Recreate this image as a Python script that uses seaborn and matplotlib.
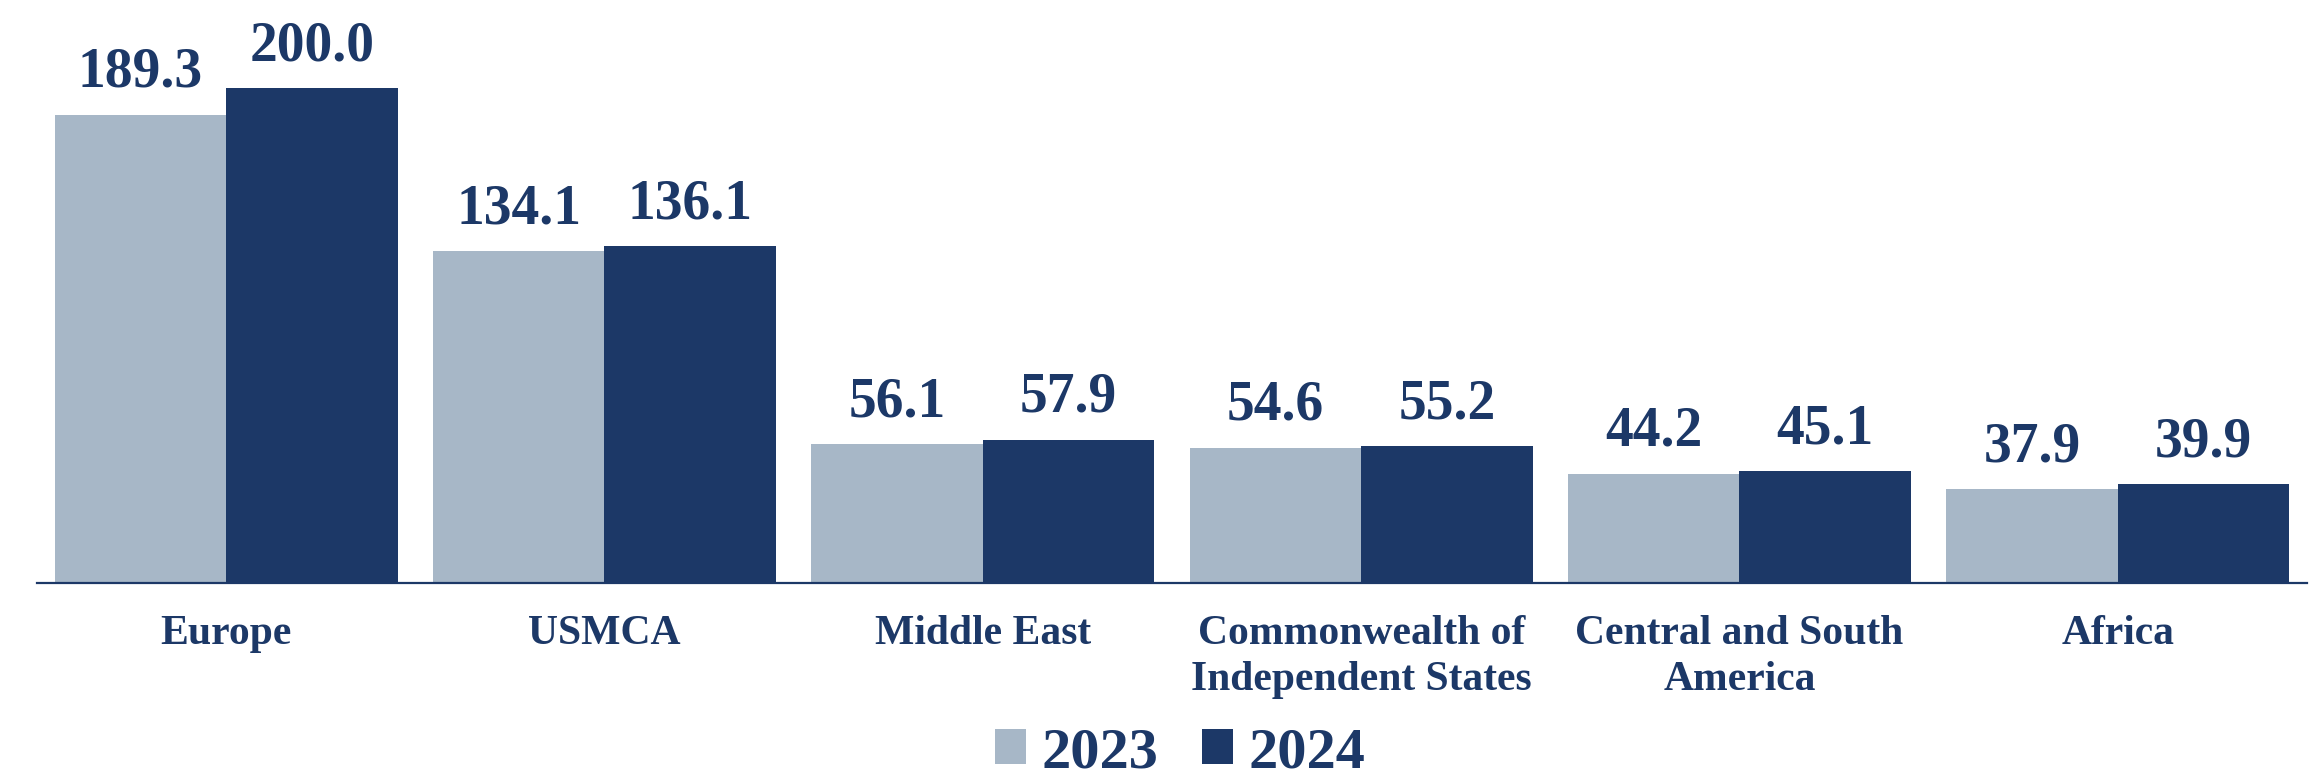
import matplotlib
matplotlib.use("Agg")
import matplotlib.pyplot as plt
import seaborn as sns
import pandas as pd

categories = ["Europe", "USMCA", "Middle East",
              "Commonwealth of\nIndependent States",
              "Central and South\nAmerica", "Africa"]
years = ["2023", "2024"]
values_2023 = [189.3, 134.1, 56.1, 54.6, 44.2, 37.9]
values_2024 = [200.0, 136.1, 57.9, 55.2, 45.1, 39.9]

NAVY = "#1C3867"
LIGHT = "#A7B7C7"
FONT = "Liberation Serif"

df = pd.DataFrame({
    "region": categories * 2,
    "year": [years[0]] * len(categories) + [years[1]] * len(categories),
    "value": values_2023 + values_2024,
})

sns.set_theme(style="white")
plt.rcParams["font.family"] = [FONT, "DejaVu Serif"]
plt.rcParams["font.weight"] = "bold"

fig = plt.figure(figsize=(23.19, 7.76), dpi=100)
ax = fig.add_axes([37 / 2319, (776 - 583) / 776, (2307 - 37) / 2319, 583 / 776])

sns.barplot(data=df, x="region", y="value", hue="year", order=categories,
            hue_order=years, palette=[LIGHT, NAVY], width=0.906, gap=0,
            linewidth=0, saturation=1, legend=True, ax=ax)

for cont in ax.containers:
    ax.bar_label(cont, fmt="%.1f", padding=11.5, fontsize=40,
                 fontweight="bold", color=NAVY)

ax.set_xlim(-0.5, 5.5)
ax.set_ylim(0, 235.6)
ax.set_xlabel("")
ax.set_ylabel("")
ax.set_yticks([])
for s in ["top", "left", "right"]:
    ax.spines[s].set_visible(False)
ax.spines["bottom"].set_color(NAVY)
ax.spines["bottom"].set_linewidth(1.6)
ax.tick_params(axis="x", length=0, pad=23, labelsize=30, labelcolor=NAVY)
for lbl in ax.get_xticklabels():
    lbl.set_fontweight("bold")
    lbl.set_linespacing(1.28)

handles, labels = ax.get_legend_handles_labels()
ax.get_legend().remove()
leg = fig.legend(handles, labels, loc="upper center",
                 bbox_to_anchor=(0.509, (776 - 727) / 776), ncol=2,
                 frameon=False, fontsize=42, handlelength=0.53,
                 handleheight=0.53, handletextpad=0.27, columnspacing=0.75,
                 borderpad=0, borderaxespad=0)
for t in leg.get_texts():
    t.set_color(NAVY)
    t.set_fontweight("bold")

fig.savefig("out.png", dpi=100)
